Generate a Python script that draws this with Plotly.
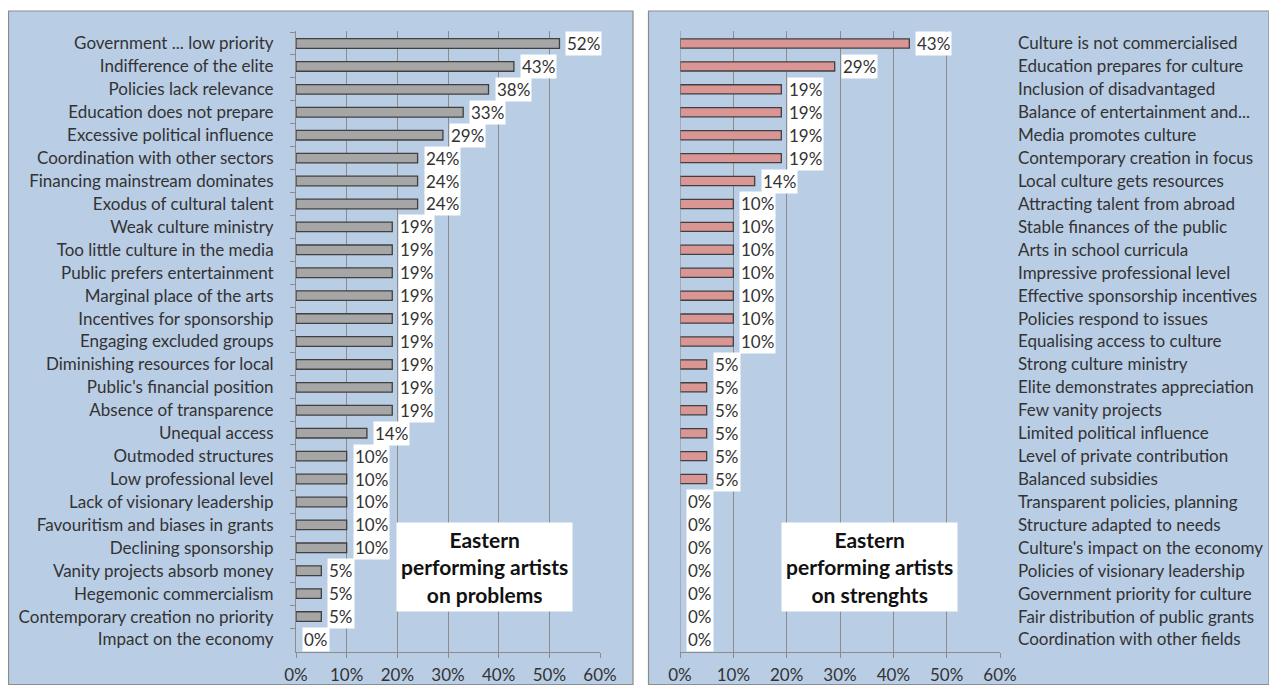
import plotly.graph_objects as go

# ---------------- data ----------------
problem_labels = [
    "Government ... low priority", "Indifference of the elite", "Policies lack relevance",
    "Education does not prepare", "Excessive political influence", "Coordination with other sectors",
    "Financing mainstream dominates", "Exodus of cultural talent", "Weak culture ministry",
    "Too little culture in the media", "Public prefers entertainment", "Marginal place of the arts",
    "Incentives for sponsorship", "Engaging excluded groups", "Diminishing resources for local",
    "Public's financial position", "Absence of transparence", "Unequal access",
    "Outmoded structures", "Low professional level", "Lack of visionary leadership",
    "Favouritism and biases in grants", "Declining sponsorship", "Vanity projects absorb money",
    "Hegemonic commercialism", "Contemporary creation no priority", "Impact on the economy",
]
problem_values = [52, 43, 38, 33, 29, 24, 24, 24, 19, 19, 19, 19, 19, 19, 19, 19, 19, 14,
                  10, 10, 10, 10, 10, 5, 5, 5, 0]

strength_labels = [
    "Culture is not commercialised", "Education prepares for culture", "Inclusion of disadvantaged",
    "Balance of entertainment and...", "Media promotes culture", "Contemporary creation in focus",
    "Local culture gets resources", "Attracting talent from abroad", "Stable finances of the public",
    "Arts in school curricula", "Impressive professional level", "Effective sponsorship incentives",
    "Policies respond to issues", "Equalising access to culture", "Strong culture ministry",
    "Elite demonstrates appreciation", "Few vanity projects", "Limited political influence",
    "Level of private contribution", "Balanced subsidies", "Transparent policies, planning",
    "Structure adapted to needs", "Culture's impact on the economy", "Policies of visionary leadership",
    "Government priority for culture", "Fair distribution of public grants", "Coordination with other fields",
]
strength_values = [43, 29, 19, 19, 19, 19, 14, 10, 10, 10, 10, 10, 10, 10, 5, 5, 5, 5, 5, 5,
                   0, 0, 0, 0, 0, 0, 0]

x_ticks = [0, 10, 20, 30, 40, 50, 60]
x_tick_text = ["0%", "10%", "20%", "30%", "40%", "50%", "60%"]
title_left = "Eastern<br>performing artists<br>on problems"
title_right = "Eastern<br>performing artists<br>on strenghts"

# ---------------- figure ----------------
OFF = 8                      # default page margin around the plot div
W, H = 1277 - 2 * OFF, 693 - 2 * OFF
FONT = "Lato"
FS = 17
TXT = "#333333"
GRID = "#8c8c8c"

def px_x(p):
    return (p - OFF) / W

def px_y(p):
    return 1 - (p - OFF) / H

fig = go.Figure()

fig.add_trace(go.Bar(
    y=problem_labels, x=problem_values, orientation="h",
    marker=dict(color="#a6a6a6",
                line=dict(color="#404040", width=[1.3 if v > 0 else 0 for v in problem_values])),
    width=0.42, xaxis="x", yaxis="y", hoverinfo="x+y", showlegend=False,
))
fig.add_trace(go.Bar(
    y=strength_labels, x=strength_values, orientation="h",
    marker=dict(color="#d99694",
                line=dict(color="#404040", width=[1.3 if v > 0 else 0 for v in strength_values])),
    width=0.40, xaxis="x2", yaxis="y2", hoverinfo="x+y", showlegend=False,
))

# data labels with white background
for lab, v in zip(problem_labels, problem_values):
    fig.add_annotation(x=v, y=lab, xref="x", yref="y", text=f"{v}%", showarrow=False,
                       xanchor="left", yanchor="middle", xshift=6, bgcolor="white", borderpad=1,
                       font=dict(family=FONT, size=FS, color=TXT))
for lab, v in zip(strength_labels, strength_values):
    fig.add_annotation(x=v, y=lab, xref="x2", yref="y2", text=f"{v}%", showarrow=False,
                       xanchor="left", yanchor="middle", xshift=6, bgcolor="white", borderpad=1,
                       font=dict(family=FONT, size=FS, color=TXT))

# text boxes
for cx, txt in [(484, title_left), (869, title_right)]:
    fig.add_annotation(x=px_x(cx), y=px_y(567), xref="paper", yref="paper", text=f"<b>{txt}</b>",
                       showarrow=False, align="center", xanchor="center", yanchor="middle",
                       bgcolor="white", borderpad=4,
                       font=dict(family=FONT, size=21, color="#111111"))

# panel backgrounds
for x0, x1 in [(8, 633), (648, 1269)]:
    fig.add_shape(type="rect", xref="paper", yref="paper",
                  x0=px_x(x0 + 0.5), x1=px_x(x1), y0=px_y(684.5), y1=px_y(11),
                  fillcolor="#b9cde5", line=dict(color="#8c8c8c", width=1.2), layer="below")

ydom = [px_y(652), px_y(31)]
xaxis_common = dict(range=[0, 60], tickvals=x_ticks, ticktext=x_tick_text, showgrid=True,
                    gridcolor=GRID, gridwidth=1, showline=True, linecolor=GRID,
                    ticks="outside", ticklen=5, tickcolor=GRID, zeroline=False,
                    tickfont=dict(family=FONT, size=FS, color=TXT), ticklabelstandoff=3,
                    fixedrange=True, automargin=False)

fig.update_layout(
    width=W, height=H,
    margin=dict(l=0, r=0, t=0, b=0, pad=0),
    paper_bgcolor="white", plot_bgcolor="white",
    font=dict(family=FONT, size=FS, color=TXT),
    xaxis=dict(domain=[px_x(296), px_x(600)], anchor="y", **xaxis_common),
    yaxis=dict(domain=ydom, anchor="x", autorange="reversed", type="category",
               showline=True, linecolor=GRID, ticks="outside", tickson="boundaries",
               ticklen=5, tickcolor=GRID, showgrid=False, ticklabelstandoff=18,
               tickfont=dict(family=FONT, size=FS, color=TXT), automargin=False),
    xaxis2=dict(domain=[px_x(680), px_x(1000)], anchor="y2", **xaxis_common),
    yaxis2=dict(domain=ydom, anchor="x2", side="right", autorange="reversed", type="category",
                showline=False, ticks="", showgrid=False, ticklabelstandoff=17,
                tickfont=dict(family=FONT, size=FS, color=TXT), automargin=False),
)

# vertical axis line of the right chart at 0%
fig.add_shape(type="line", xref="x2", yref="paper", x0=0, x1=0, y0=ydom[0], y1=ydom[1],
              line=dict(color=GRID, width=1))

fig.write_html("out.html")
